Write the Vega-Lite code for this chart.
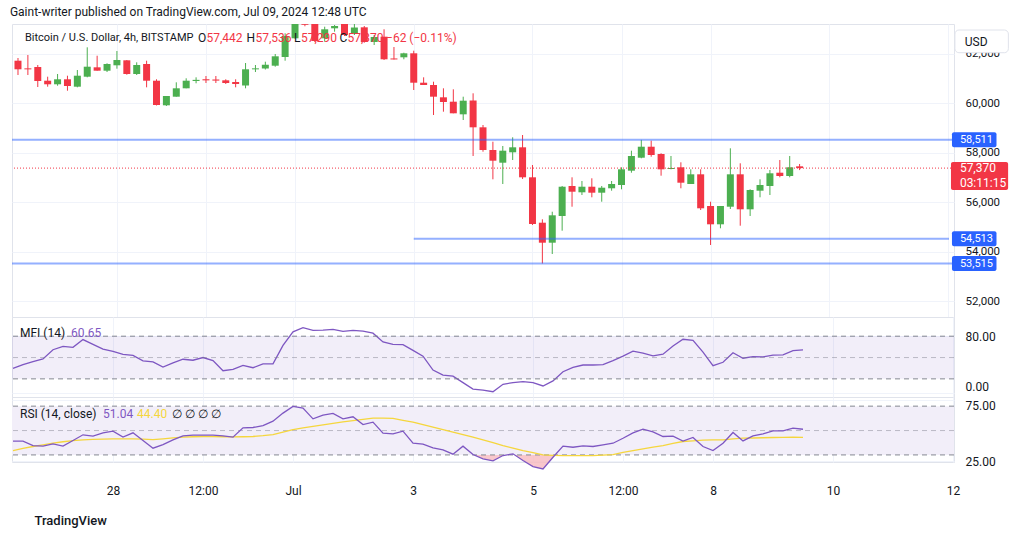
{
"$schema":"https://vega.github.io/schema/vega-lite/v6.json",
"padding":{"left":9,"top":5,"right":0,"bottom":0},
"background":"white",
"title":{"text":"Gaint-writer published on TradingView.com, Jul 09, 2024 12:48 UTC","anchor":"start","fontSize":12,"fontWeight":"normal","color":"#131722","font":"Roboto","offset":5},
"config":{"view":{"stroke":"#e0e3eb"},"font":"Roboto","axis":{"gridColor":"#f0f3fa","ticks":false,"domain":false,"labelColor":"#131722","labelFontSize":12,"labelFont":"Roboto"}},
"spacing":0,
"bounds":"flush",
"datasets":{"c":[
{"t":"2024-06-26T08:00:00Z","o":61709,"h":61818,"l":61131,"c":61362,"mfi":34.7,"rsi":41.3,"ma":33.6},
{"t":"2024-06-26T12:00:00Z","o":61400,"h":61939,"l":61131,"c":61360,"mfi":40,"rsi":41.3,"ma":35.3},
{"t":"2024-06-26T16:00:00Z","o":61454,"h":61535,"l":60646,"c":60889,"mfi":44.3,"rsi":37.7,"ma":36.9},
{"t":"2024-06-26T20:00:00Z","o":60901,"h":61063,"l":60659,"c":60756,"mfi":48.1,"rsi":37.2,"ma":38.3},
{"t":"2024-06-27T00:00:00Z","o":60756,"h":61172,"l":60699,"c":60958,"mfi":61,"rsi":39.1,"ma":39.6},
{"t":"2024-06-27T04:00:00Z","o":60958,"h":61103,"l":60497,"c":60687,"mfi":65.7,"rsi":37.2,"ma":40.8},
{"t":"2024-06-27T08:00:00Z","o":60659,"h":61333,"l":60634,"c":61103,"mfi":64.3,"rsi":41.8,"ma":41.8},
{"t":"2024-06-27T12:00:00Z","o":61063,"h":62250,"l":61038,"c":61467,"mfi":75.3,"rsi":46.5,"ma":42.3},
{"t":"2024-06-27T16:00:00Z","o":61442,"h":61911,"l":61305,"c":61305,"mfi":68.6,"rsi":45.4,"ma":42.7},
{"t":"2024-06-27T20:00:00Z","o":61305,"h":61604,"l":61252,"c":61576,"mfi":61.9,"rsi":48.1,"ma":42.9},
{"t":"2024-06-28T00:00:00Z","o":61523,"h":62101,"l":61386,"c":61737,"mfi":58.6,"rsi":49.5,"ma":43.1},
{"t":"2024-06-28T04:00:00Z","o":61725,"h":61737,"l":61143,"c":61172,"mfi":54.3,"rsi":44.6,"ma":43.2},
{"t":"2024-06-28T08:00:00Z","o":61172,"h":61644,"l":61131,"c":61535,"mfi":52.9,"rsi":48.1,"ma":43.2},
{"t":"2024-06-28T12:00:00Z","o":61576,"h":61709,"l":60634,"c":60901,"mfi":45.3,"rsi":41.8,"ma":43},
{"t":"2024-06-28T16:00:00Z","o":60901,"h":60958,"l":59900,"c":59919,"mfi":43.8,"rsi":35.5,"ma":42.6},
{"t":"2024-06-28T20:00:00Z","o":59907,"h":60283,"l":59879,"c":60283,"mfi":36.7,"rsi":38.5,"ma":43.2},
{"t":"2024-06-29T00:00:00Z","o":60255,"h":60836,"l":60255,"c":60594,"mfi":42.4,"rsi":42.4,"ma":43.9},
{"t":"2024-06-29T04:00:00Z","o":60594,"h":60998,"l":60594,"c":60901,"mfi":47.6,"rsi":45.6,"ma":44.6},
{"t":"2024-06-29T08:00:00Z","o":60890,"h":61038,"l":60796,"c":60935,"mfi":46.2,"rsi":46.2,"ma":44.9},
{"t":"2024-06-29T12:00:00Z","o":60960,"h":61091,"l":60808,"c":60915,"mfi":50,"rsi":46.2,"ma":45.1},
{"t":"2024-06-29T16:00:00Z","o":60950,"h":61091,"l":60808,"c":60905,"mfi":45.7,"rsi":46.2,"ma":45},
{"t":"2024-06-29T20:00:00Z","o":60917,"h":60958,"l":60768,"c":60808,"mfi":31.4,"rsi":45.6,"ma":44.9},
{"t":"2024-06-30T00:00:00Z","o":60848,"h":60958,"l":60634,"c":60768,"mfi":33.3,"rsi":44.6,"ma":44.8},
{"t":"2024-06-30T04:00:00Z","o":60707,"h":61616,"l":60594,"c":61362,"mfi":39,"rsi":52.2,"ma":44.9},
{"t":"2024-06-30T08:00:00Z","o":61360,"h":61535,"l":61252,"c":61400,"mfi":35.7,"rsi":52.5,"ma":45.1},
{"t":"2024-06-30T12:00:00Z","o":61394,"h":61669,"l":61353,"c":61547,"mfi":41,"rsi":54.1,"ma":45.8},
{"t":"2024-06-30T16:00:00Z","o":61507,"h":61980,"l":61467,"c":61887,"mfi":41,"rsi":57.7,"ma":46.7},
{"t":"2024-06-30T20:00:00Z","o":61858,"h":62816,"l":61709,"c":62707,"mfi":67.1,"rsi":64.3,"ma":48.7},
{"t":"2024-07-01T00:00:00Z","o":62614,"h":63450,"l":62600,"c":63300,"mfi":86.1,"rsi":69.8,"ma":50.8},
{"t":"2024-07-01T04:00:00Z","o":63400,"h":63600,"l":63100,"c":63160,"mfi":91.9,"rsi":68.4,"ma":52.2},
{"t":"2024-07-01T08:00:00Z","o":63220,"h":63350,"l":62465,"c":62505,"mfi":88.1,"rsi":59.6,"ma":53.5},
{"t":"2024-07-01T12:00:00Z","o":62614,"h":63083,"l":62477,"c":62978,"mfi":88.6,"rsi":62.6,"ma":54.7},
{"t":"2024-07-01T16:00:00Z","o":63018,"h":63151,"l":62881,"c":63111,"mfi":89.6,"rsi":64,"ma":55.9},
{"t":"2024-07-01T20:00:00Z","o":63200,"h":63300,"l":62707,"c":62747,"mfi":86.7,"rsi":59.6,"ma":57.1},
{"t":"2024-07-02T00:00:00Z","o":62788,"h":63200,"l":62747,"c":63050,"mfi":88.1,"rsi":61.3,"ma":58.2},
{"t":"2024-07-02T04:00:00Z","o":63058,"h":63111,"l":62436,"c":62464,"mfi":87.1,"rsi":54.9,"ma":59.2},
{"t":"2024-07-02T08:00:00Z","o":62464,"h":62747,"l":62343,"c":62666,"mfi":84.3,"rsi":56.9,"ma":60.2},
{"t":"2024-07-02T12:00:00Z","o":62679,"h":62978,"l":61737,"c":61766,"mfi":71.9,"rsi":47.8,"ma":60.1},
{"t":"2024-07-02T16:00:00Z","o":61800,"h":62262,"l":61757,"c":61760,"mfi":68.6,"rsi":47.3,"ma":59.9},
{"t":"2024-07-02T20:00:00Z","o":61846,"h":62032,"l":61766,"c":62008,"mfi":68.1,"rsi":49.5,"ma":58.4},
{"t":"2024-07-03T00:00:00Z","o":62008,"h":62113,"l":60525,"c":60820,"mfi":60,"rsi":39.6,"ma":56.9},
{"t":"2024-07-03T04:00:00Z","o":60820,"h":61038,"l":60727,"c":60727,"mfi":51.9,"rsi":38.8,"ma":54.8},
{"t":"2024-07-03T08:00:00Z","o":60727,"h":60861,"l":59515,"c":60255,"mfi":32.4,"rsi":35.8,"ma":52.8},
{"t":"2024-07-03T12:00:00Z","o":60230,"h":60594,"l":59649,"c":60040,"mfi":25.3,"rsi":34.2,"ma":50.8},
{"t":"2024-07-03T16:00:00Z","o":60053,"h":60553,"l":59584,"c":59584,"mfi":23.8,"rsi":30.6,"ma":48.7},
{"t":"2024-07-03T20:00:00Z","o":59543,"h":60255,"l":59313,"c":60093,"mfi":14.7,"rsi":37.2,"ma":46.6},
{"t":"2024-07-04T00:00:00Z","o":60101,"h":60392,"l":57859,"c":59018,"mfi":5.7,"rsi":30.3,"ma":44.6},
{"t":"2024-07-04T04:00:00Z","o":59018,"h":59111,"l":58033,"c":58101,"mfi":4.3,"rsi":26.8,"ma":42.3},
{"t":"2024-07-04T08:00:00Z","o":58101,"h":58436,"l":56917,"c":57669,"mfi":1.9,"rsi":25.1,"ma":40},
{"t":"2024-07-04T12:00:00Z","o":57588,"h":58263,"l":56727,"c":58073,"mfi":12.4,"rsi":29.5,"ma":37.7},
{"t":"2024-07-04T16:00:00Z","o":58008,"h":58614,"l":57697,"c":58210,"mfi":14.7,"rsi":30.9,"ma":35.6},
{"t":"2024-07-04T20:00:00Z","o":58210,"h":58707,"l":56930,"c":56998,"mfi":16.2,"rsi":25.4,"ma":33.6},
{"t":"2024-07-05T00:00:00Z","o":56998,"h":57495,"l":55071,"c":55111,"mfi":14.7,"rsi":20.4,"ma":31.8},
{"t":"2024-07-05T04:00:00Z","o":55164,"h":55301,"l":53515,"c":54356,"mfi":10,"rsi":18.5,"ma":30},
{"t":"2024-07-05T08:00:00Z","o":54356,"h":55608,"l":53899,"c":55463,"mfi":17.1,"rsi":28.1,"ma":29.7},
{"t":"2024-07-05T12:00:00Z","o":55435,"h":56647,"l":54841,"c":56618,"mfi":30,"rsi":37.2,"ma":29.5},
{"t":"2024-07-05T16:00:00Z","o":56647,"h":56998,"l":55810,"c":56416,"mfi":36.2,"rsi":36.3,"ma":29.5},
{"t":"2024-07-05T20:00:00Z","o":56392,"h":56849,"l":56283,"c":56618,"mfi":39.5,"rsi":37.4,"ma":29.5},
{"t":"2024-07-06T00:00:00Z","o":56618,"h":56958,"l":56190,"c":56376,"mfi":39.5,"rsi":36.9,"ma":29.5},
{"t":"2024-07-06T04:00:00Z","o":56376,"h":56647,"l":56012,"c":56578,"mfi":40,"rsi":38.2,"ma":29.9},
{"t":"2024-07-06T08:00:00Z","o":56554,"h":56849,"l":56457,"c":56728,"mfi":45.7,"rsi":39.6,"ma":30.3},
{"t":"2024-07-06T12:00:00Z","o":56687,"h":57402,"l":56513,"c":57321,"mfi":51.9,"rsi":43.7,"ma":32},
{"t":"2024-07-06T16:00:00Z","o":57265,"h":58073,"l":57184,"c":57859,"mfi":59,"rsi":48.1,"ma":33.6},
{"t":"2024-07-06T20:00:00Z","o":57790,"h":58511,"l":57766,"c":58234,"mfi":56.2,"rsi":51.1,"ma":35},
{"t":"2024-07-07T00:00:00Z","o":58234,"h":58480,"l":57830,"c":57899,"mfi":52.4,"rsi":48.9,"ma":36.4},
{"t":"2024-07-07T04:00:00Z","o":57940,"h":57968,"l":57063,"c":57321,"mfi":54.7,"rsi":45.1,"ma":37.7},
{"t":"2024-07-07T08:00:00Z","o":57333,"h":57859,"l":57321,"c":57374,"mfi":66.1,"rsi":45.4,"ma":39.4},
{"t":"2024-07-07T12:00:00Z","o":57402,"h":57604,"l":56554,"c":56780,"mfi":75.7,"rsi":41.3,"ma":41},
{"t":"2024-07-07T16:00:00Z","o":56728,"h":57321,"l":56728,"c":57119,"mfi":74.3,"rsi":44.3,"ma":41.6},
{"t":"2024-07-07T20:00:00Z","o":57119,"h":57321,"l":55677,"c":55746,"mfi":57.6,"rsi":36.9,"ma":42.1},
{"t":"2024-07-08T00:00:00Z","o":55839,"h":56012,"l":54263,"c":55099,"mfi":38.6,"rsi":33.6,"ma":42.3},
{"t":"2024-07-08T04:00:00Z","o":55099,"h":55839,"l":54938,"c":55839,"mfi":43.3,"rsi":39.6,"ma":42.4},
{"t":"2024-07-08T08:00:00Z","o":55810,"h":58170,"l":55717,"c":57119,"mfi":56.7,"rsi":48.4,"ma":43.1},
{"t":"2024-07-08T12:00:00Z","o":57119,"h":57564,"l":55043,"c":55705,"mfi":49,"rsi":41.5,"ma":43.7},
{"t":"2024-07-08T16:00:00Z","o":55705,"h":56513,"l":55435,"c":56485,"mfi":51.4,"rsi":45.6,"ma":43.9},
{"t":"2024-07-08T20:00:00Z","o":56457,"h":56917,"l":56190,"c":56687,"mfi":51,"rsi":47.3,"ma":44.1},
{"t":"2024-07-09T00:00:00Z","o":56647,"h":57293,"l":56283,"c":57160,"mfi":53.3,"rsi":49.8,"ma":44.3},
{"t":"2024-07-09T04:00:00Z","o":57184,"h":57697,"l":56998,"c":57051,"mfi":53.8,"rsi":49.8,"ma":44.4},
{"t":"2024-07-09T08:00:00Z","o":57051,"h":57859,"l":56998,"c":57402,"mfi":59.6,"rsi":52,"ma":44.5},
{"t":"2024-07-09T12:00:00Z","o":57442,"h":57536,"l":57290,"c":57370,"mfi":60.65,"rsi":51.04,"ma":44.4}
]},
"vconcat":[
{"width":942,"height":293,
 "layer":[
  {"data":{"name":"c"},"mark":{"type":"rule","clip":true},
   "encoding":{
    "x":{"field":"t","type":"temporal","title":null,"scale":{"type":"utc","nice":false,"domain":[1719387360000,1720743840000]},
     "axis":{"labels":false,"grid":true,"values":[1719532800000,1719662400000,1719792000000,1719964800000,1720137600000,1720267200000,1720396800000,1720569600000,1720742400000]}},
    "y":{"field":"l","type":"quantitative","title":null,"scale":{"domain":[51354,63192],"nice":false,"zero":false},
     "axis":{"orient":"right","values":[52000,54000,56000,58000,60000,62000],"format":",d","labelPadding":11,"grid":true,"labelFontSize":11.5}},
    "y2":{"field":"h"},
    "color":{"condition":{"test":"datum.c >= datum.o","value":"#4caf50"},"value":"#f23645"}}},
  {"data":{"name":"c"},"mark":{"type":"bar","width":7,"clip":true},
   "encoding":{
    "x":{"field":"t","type":"temporal"},
    "y":{"field":"o","type":"quantitative"},
    "y2":{"field":"c"},
    "color":{"condition":{"test":"datum.c >= datum.o","value":"#4caf50"},"value":"#f23645"}}},
  {"data":{"values":[{"level":58511},{"level":53515}]},"mark":{"type":"rule","color":"#2962ff","opacity":0.5,"strokeWidth":2},
   "encoding":{"y":{"field":"level","type":"quantitative"}}},
  {"data":{"values":[{"level":54513,"from":"2024-07-03T00:00:00Z"}]},"mark":{"type":"rule","color":"#2962ff","opacity":0.5,"strokeWidth":2},
   "encoding":{"x":{"field":"from","type":"temporal"},"x2":{"datum":1720743840000},"y":{"field":"level","type":"quantitative"}}},
  {"data":{"values":[{"last":57370}]},"mark":{"type":"rule","color":"#f23645","strokeDash":[1,2],"strokeWidth":1},
   "encoding":{"y":{"field":"last","type":"quantitative"}}},
  {"data":{"values":[{"s":"Bitcoin / U.S. Dollar, 4h, BITSTAMP"}]},"mark":{"type":"text","align":"left","baseline":"middle","fontSize":11,"color":"#131722"},
   "encoding":{"x":{"datum":1719398880000,"type":"temporal"},"y":{"datum":62630,"type":"quantitative"},"text":{"field":"s"}}},
  {"data":{"values":[{"s":"O"}]},"mark":{"type":"text","align":"left","baseline":"middle","fontSize":12,"color":"#131722"},
   "encoding":{"x":{"datum":1719650880000,"type":"temporal"},"y":{"datum":62630,"type":"quantitative"},"text":{"field":"s"}}},
  {"data":{"values":[{"s":"57,442"}]},"mark":{"type":"text","align":"left","baseline":"middle","fontSize":12,"color":"#f23645"},
   "encoding":{"x":{"datum":1719663120000,"type":"temporal"},"y":{"datum":62630,"type":"quantitative"},"text":{"field":"s"}}},
  {"data":{"values":[{"s":"H"}]},"mark":{"type":"text","align":"left","baseline":"middle","fontSize":12,"color":"#131722"},
   "encoding":{"x":{"datum":1719721440000,"type":"temporal"},"y":{"datum":62630,"type":"quantitative"},"text":{"field":"s"}}},
  {"data":{"values":[{"s":"57,536"}]},"mark":{"type":"text","align":"left","baseline":"middle","fontSize":12,"color":"#f23645"},
   "encoding":{"x":{"datum":1719734400000,"type":"temporal"},"y":{"datum":62630,"type":"quantitative"},"text":{"field":"s"}}},
  {"data":{"values":[{"s":"L"}]},"mark":{"type":"text","align":"left","baseline":"middle","fontSize":12,"color":"#131722"},
   "encoding":{"x":{"datum":1719790560000,"type":"temporal"},"y":{"datum":62630,"type":"quantitative"},"text":{"field":"s"}}},
  {"data":{"values":[{"s":"57,290"}]},"mark":{"type":"text","align":"left","baseline":"middle","fontSize":12,"color":"#f23645"},
   "encoding":{"x":{"datum":1719800640000,"type":"temporal"},"y":{"datum":62630,"type":"quantitative"},"text":{"field":"s"}}},
  {"data":{"values":[{"s":"C"}]},"mark":{"type":"text","align":"left","baseline":"middle","fontSize":12,"color":"#131722"},
   "encoding":{"x":{"datum":1719856800000,"type":"temporal"},"y":{"datum":62630,"type":"quantitative"},"text":{"field":"s"}}},
  {"data":{"values":[{"s":"57,370"}]},"mark":{"type":"text","align":"left","baseline":"middle","fontSize":12,"color":"#f23645"},
   "encoding":{"x":{"datum":1719868320000,"type":"temporal"},"y":{"datum":62630,"type":"quantitative"},"text":{"field":"s"}}},
  {"data":{"values":[{"s":"−62 (−0.11%)"}]},"mark":{"type":"text","align":"left","baseline":"middle","fontSize":12,"color":"#f23645"},
   "encoding":{"x":{"datum":1719924480000,"type":"temporal"},"y":{"datum":62630,"type":"quantitative"},"text":{"field":"s"}}},
  {"data":{"values":[{"k":1}]},"mark":{"type":"rect","color":"#2962ff","cornerRadius":2},
   "encoding":{"x":{"datum":1720748160000,"type":"temporal"},"x2":{"datum":1720812960000},"y":{"datum":58208,"type":"quantitative"},"y2":{"datum":58814}}},
  {"data":{"values":[{"k":2}]},"mark":{"type":"rect","color":"#2962ff","cornerRadius":2},
   "encoding":{"x":{"datum":1720748160000,"type":"temporal"},"x2":{"datum":1720812960000},"y":{"datum":54210,"type":"quantitative"},"y2":{"datum":54816}}},
  {"data":{"values":[{"k":3}]},"mark":{"type":"rect","color":"#2962ff","cornerRadius":2},
   "encoding":{"x":{"datum":1720748160000,"type":"temporal"},"x2":{"datum":1720812960000},"y":{"datum":53212,"type":"quantitative"},"y2":{"datum":53818}}},
  {"data":{"values":[{"label":"58,511","price":58511},{"label":"54,513","price":54513},{"label":"53,515","price":53515}]},
   "mark":{"type":"text","color":"white","align":"left","baseline":"middle","fontSize":11},
   "encoding":{"x":{"datum":1720759680000,"type":"temporal"},"y":{"field":"price","type":"quantitative"},"text":{"field":"label"}}},
  {"data":{"values":[{"k":4}]},"mark":{"type":"rect","color":"#f23645","cornerRadius":2},
   "encoding":{"x":{"datum":1720746720000,"type":"temporal"},"x2":{"datum":1720829880000},"y":{"datum":56485,"type":"quantitative"},"y2":{"datum":57616}}},
  {"data":{"values":[{"s":"57,370"}]},"mark":{"type":"text","color":"white","align":"left","baseline":"middle","fontSize":12},
   "encoding":{"x":{"datum":1720759680000,"type":"temporal"},"y":{"datum":57370,"type":"quantitative"},"text":{"field":"s"}}},
  {"data":{"values":[{"s":"03:11:15"}]},"mark":{"type":"text","color":"white","align":"left","baseline":"middle","fontSize":12},
   "encoding":{"x":{"datum":1720759680000,"type":"temporal"},"y":{"datum":56780,"type":"quantitative"},"text":{"field":"s"}}},
  {"data":{"values":[{"k":5}]},"mark":{"type":"rect","fill":"white","stroke":"#e0e3eb","strokeWidth":1,"cornerRadius":4},
   "encoding":{"x":{"datum":1720752480000,"type":"temporal"},"x2":{"datum":1720830240000},"y":{"datum":62032,"type":"quantitative"},"y2":{"datum":62949}}},
  {"data":{"values":[{"s":"USD"}]},"mark":{"type":"text","color":"#131722","align":"left","baseline":"middle","fontSize":12},
   "encoding":{"x":{"datum":1720766880000,"type":"temporal"},"y":{"datum":62477,"type":"quantitative"},"text":{"field":"s"}}}
 ]},
{"width":942,"height":80,
 "layer":[
  {"data":{"name":"c"},"mark":{"type":"line","color":"#7e57c2","strokeWidth":1.3},
   "encoding":{
    "x":{"field":"t","type":"temporal","title":null,"scale":{"type":"utc","nice":false,"domain":[1719387360000,1720743840000]},
     "axis":{"labels":false,"grid":true,"values":[1719532800000,1719662400000,1719792000000,1719964800000,1720137600000,1720267200000,1720396800000,1720569600000,1720742400000]}},
    "y":{"field":"mfi","type":"quantitative","title":null,"scale":{"domain":[-5.5,107],"nice":false,"zero":false},"axis":{"orient":"right","values":[0,40,80],"format":".2f","labelPadding":11,"grid":true,"labelBaseline":{"condition":{"test":"datum.value == 0","value":"bottom"},"value":"middle"}}}}},
  {"data":{"values":[{"k":6}]},"mark":{"type":"rect","color":"#7e57c2","opacity":0.1},
   "encoding":{"x":{"datum":1719387360000,"type":"temporal"},"x2":{"datum":1720743840000},"y":{"datum":20,"type":"quantitative"},"y2":{"datum":80}}},
  {"data":{"values":[{"lv":80},{"lv":20}]},"mark":{"type":"rule","strokeDash":[5,4],"color":"#787b86","opacity":0.9},
   "encoding":{"y":{"field":"lv","type":"quantitative"}}},
  {"data":{"values":[{"lv":50}]},"mark":{"type":"rule","strokeDash":[5,4],"color":"#787b86","opacity":0.45},
   "encoding":{"y":{"field":"lv","type":"quantitative"}}},
  {"data":{"values":[{"s":"MFI (14)"}]},"mark":{"type":"text","align":"left","baseline":"middle","fontSize":12,"color":"#131722"},
   "encoding":{"x":{"datum":1719398880000,"type":"temporal"},"y":{"datum":85,"type":"quantitative"},"text":{"field":"s"}}},
  {"data":{"values":[{"s":"60.65"}]},"mark":{"type":"text","align":"left","baseline":"middle","fontSize":12,"color":"#7e57c2"},
   "encoding":{"x":{"datum":1719472320000,"type":"temporal"},"y":{"datum":85,"type":"quantitative"},"text":{"field":"s"}}}
 ]},
{"width":942,"height":65,
 "layer":[
  {"data":{"name":"c"},"mark":{"type":"area","color":"#f7b9bf","opacity":0.8},
   "encoding":{
    "x":{"field":"t","type":"temporal","title":"TradingView","scale":{"type":"utc","nice":false,"domain":[1719387360000,1720743840000]},
     "axis":{"grid":true,"labelFlush":false,"labelPadding":23,"labelExpr":"utcFormat(datum.value, '%H') == '12' ? '12:00' : utcFormat(datum.value, '%d') == '01' ? 'Jul' : utcFormat(datum.value, '%-d')",
      "values":[1719532800000,1719662400000,1719792000000,1719964800000,1720137600000,1720267200000,1720396800000,1720569600000,1720742400000],
      "titleX":22,"titleY":58,"titleAnchor":"start","titleAlign":"left","titleBaseline":"middle","titleFontSize":13,"titleFontWeight":500,"titleColor":"#131722","titleFont":"Roboto"}},
    "y":{"field":"rsi","type":"quantitative","title":null,"scale":{"domain":[24.2,77.5],"nice":false,"zero":false},"axis":{"orient":"right","values":[25,50,75],"format":".2f","labelPadding":11,"grid":true,"labelBaseline":{"condition":{"test":"datum.value == 75","value":"top"},"value":"middle"}}},
    "y2":{"datum":30}}},
  {"data":{"values":[{"k":7}]},"mark":{"type":"rect","color":"#f2eef9"},
   "encoding":{"x":{"datum":1719387360000,"type":"temporal"},"x2":{"datum":1720743840000},"y":{"datum":30,"type":"quantitative"},"y2":{"datum":70}}},
  {"data":{"values":[{"lv":70},{"lv":30}]},"mark":{"type":"rule","strokeDash":[5,4],"color":"#787b86","opacity":0.9},
   "encoding":{"y":{"field":"lv","type":"quantitative"}}},
  {"data":{"values":[{"lv":50}]},"mark":{"type":"rule","strokeDash":[5,4],"color":"#787b86","opacity":0.45},
   "encoding":{"y":{"field":"lv","type":"quantitative"}}},
  {"data":{"name":"c"},"mark":{"type":"line","color":"#f5d63d","strokeWidth":1.3},
   "encoding":{"x":{"field":"t","type":"temporal"},"y":{"field":"ma","type":"quantitative"}}},
  {"data":{"name":"c"},"mark":{"type":"line","color":"#7e57c2","strokeWidth":1.3},
   "encoding":{"x":{"field":"t","type":"temporal"},"y":{"field":"rsi","type":"quantitative"}}},
  {"data":{"values":[{"s":"RSI (14, close)"}]},"mark":{"type":"text","align":"left","baseline":"middle","fontSize":12,"color":"#131722"},
   "encoding":{"x":{"datum":1719398880000,"type":"temporal"},"y":{"datum":63.6,"type":"quantitative"},"text":{"field":"s"}}},
  {"data":{"values":[{"s":"51.04"}]},"mark":{"type":"text","align":"left","baseline":"middle","fontSize":12,"color":"#7e57c2"},
   "encoding":{"x":{"datum":1719518400000,"type":"temporal"},"y":{"datum":63.6,"type":"quantitative"},"text":{"field":"s"}}},
  {"data":{"values":[{"s":"44.40"}]},"mark":{"type":"text","align":"left","baseline":"middle","fontSize":12,"color":"#f5d63d"},
   "encoding":{"x":{"datum":1719567360000,"type":"temporal"},"y":{"datum":63.6,"type":"quantitative"},"text":{"field":"s"}}},
  {"data":{"values":[{"s":"∅  ∅  ∅  ∅"}]},"mark":{"type":"text","align":"left","baseline":"middle","fontSize":12,"color":"#131722"},
   "encoding":{"x":{"datum":1719617760000,"type":"temporal"},"y":{"datum":63.6,"type":"quantitative"},"text":{"field":"s"}}}
 ]}
]
}
